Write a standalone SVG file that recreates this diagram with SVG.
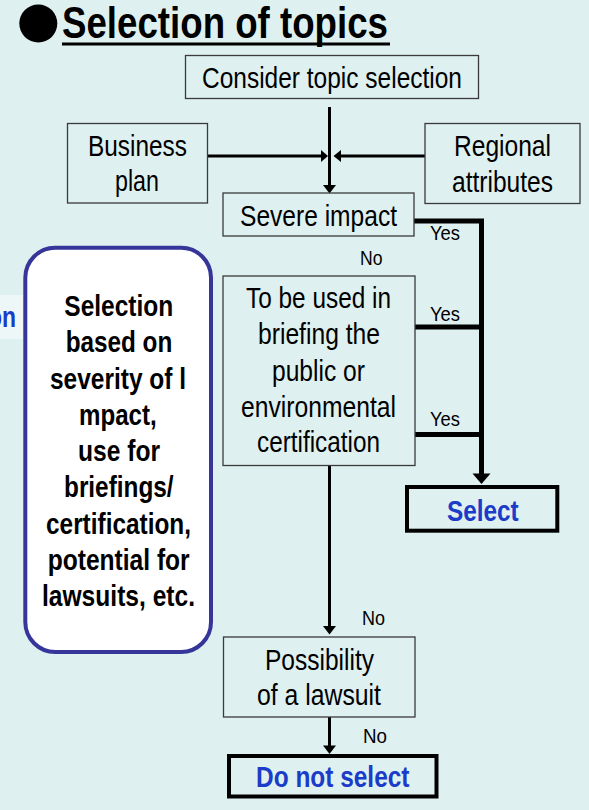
<svg xmlns="http://www.w3.org/2000/svg" width="589" height="810" viewBox="0 0 589 810">
<style>
  text { font-family: "Liberation Sans Narrow", "Arial Narrow", "Liberation Sans", Arial, sans-serif; fill: #000; }
  .lbl { font-size: 30px; }
  .sm { font-size: 21px; }
  .b { font-weight: bold; }
  .blue { fill: #1a3cc8; }
  .box { fill: none; stroke: #3a3a3a; stroke-width: 1.3; }
  .term { fill: none; stroke: #000; stroke-width: 4; }
  .con { fill: none; stroke: #000; stroke-width: 3; }
  .thick { fill: none; stroke: #000; stroke-width: 5; stroke-linejoin: miter; }
  .head { fill: #000; }
</style>
<rect x="0" y="0" width="589" height="810" fill="#dff0f0"/>

<g id="title">
  <circle cx="38.3" cy="23.5" r="19" fill="#000"/>
  <text class="b" x="62" y="38" font-size="44" textLength="326" lengthAdjust="spacingAndGlyphs">Selection of topics</text>
  <line x1="62" y1="44" x2="390" y2="44" stroke="#000" stroke-width="3"/>
</g>

<g id="side-tab">
  <rect x="-5" y="295" width="28" height="44" fill="#eef7f7"/>
  <text class="lbl b blue" x="-12" y="327" textLength="28" lengthAdjust="spacingAndGlyphs">on</text>
</g>

<g id="connectors">
  <line class="con" x1="329.5" y1="107" x2="329.5" y2="187"/>
  <polygon class="head" points="323,185 336,185 329.5,193.5"/>
  <line class="con" x1="207.5" y1="156" x2="322" y2="156"/>
  <polygon class="head" points="321,150 321,162 328,156"/>
  <line class="con" x1="425" y1="156" x2="340" y2="156"/>
  <polygon class="head" points="341,150 341,162 333.5,156"/>
  <polyline class="thick" points="414,221 481.5,221 481.5,475"/>
  <line class="thick" x1="415" y1="327" x2="481.5" y2="327"/>
  <line class="thick" x1="415" y1="434.5" x2="481.5" y2="434.5"/>
  <polygon class="head" points="472.5,473.5 490.5,473.5 481.5,484"/>
  <line class="con" x1="329.5" y1="465.5" x2="329.5" y2="628"/>
  <polygon class="head" points="323,626 336,626 329.5,634.5"/>
  <line class="con" x1="329.5" y1="717" x2="329.5" y2="747"/>
  <polygon class="head" points="323,745.5 336,745.5 329.5,754"/>
  <text class="sm" x="430" y="240" textLength="30" lengthAdjust="spacingAndGlyphs">Yes</text>
  <text class="sm" x="430" y="321" textLength="30" lengthAdjust="spacingAndGlyphs">Yes</text>
  <text class="sm" x="430" y="426" textLength="30" lengthAdjust="spacingAndGlyphs">Yes</text>
  <text class="sm" x="360" y="265" textLength="22.5" lengthAdjust="spacingAndGlyphs">No</text>
  <text class="sm" x="362" y="625" textLength="23" lengthAdjust="spacingAndGlyphs">No</text>
  <text class="sm" x="363" y="743" textLength="24" lengthAdjust="spacingAndGlyphs">No</text>
</g>

<g id="consider">
  <rect class="box" x="185.5" y="55.5" width="293" height="43"/>
  <text class="lbl" x="202" y="88" textLength="260" lengthAdjust="spacingAndGlyphs">Consider topic selection</text>
</g>

<g id="business-plan">
  <rect class="box" x="67.5" y="123.5" width="140" height="79.5"/>
  <text class="lbl" x="88" y="156" textLength="99" lengthAdjust="spacingAndGlyphs">Business</text>
  <text class="lbl" x="115" y="191" textLength="44" lengthAdjust="spacingAndGlyphs">plan</text>
</g>

<g id="regional-attributes">
  <rect class="box" x="425" y="123.5" width="155" height="80"/>
  <text class="lbl" x="454" y="156" textLength="97" lengthAdjust="spacingAndGlyphs">Regional</text>
  <text class="lbl" x="452" y="192" textLength="101" lengthAdjust="spacingAndGlyphs">attributes</text>
</g>

<g id="severe-impact">
  <rect class="box" x="223" y="193" width="191" height="43"/>
  <text class="lbl" x="240" y="226" textLength="157" lengthAdjust="spacingAndGlyphs">Severe impact</text>
</g>

<g id="briefing">
  <rect class="box" x="223" y="276" width="192" height="189.5"/>
  <text class="lbl" x="246" y="308" textLength="145" lengthAdjust="spacingAndGlyphs">To be used in</text>
  <text class="lbl" x="258" y="344" textLength="122" lengthAdjust="spacingAndGlyphs">briefing the</text>
  <text class="lbl" x="272" y="380.5" textLength="93" lengthAdjust="spacingAndGlyphs">public or</text>
  <text class="lbl" x="241" y="416.5" textLength="155" lengthAdjust="spacingAndGlyphs">environmental</text>
  <text class="lbl" x="257" y="452" textLength="123" lengthAdjust="spacingAndGlyphs">certification</text>
</g>

<g id="select">
  <rect class="term" x="407" y="487" width="150.3" height="43.7"/>
  <text class="lbl b blue" x="447" y="520.7" textLength="71.7" lengthAdjust="spacingAndGlyphs">Select</text>
</g>

<g id="lawsuit">
  <rect class="box" x="223.5" y="637" width="191.5" height="80"/>
  <text class="lbl" x="265" y="670" textLength="109" lengthAdjust="spacingAndGlyphs">Possibility</text>
  <text class="lbl" x="257" y="705" textLength="124" lengthAdjust="spacingAndGlyphs">of a lawsuit</text>
</g>

<g id="do-not-select">
  <rect class="term" x="229" y="756" width="207.5" height="40.5"/>
  <text class="lbl b blue" x="256" y="787" textLength="153.5" lengthAdjust="spacingAndGlyphs">Do not select</text>
</g>

<g id="criteria-note">
  <rect x="25.3" y="247.7" width="185.7" height="404.3" rx="30" ry="30" fill="#fff" stroke="#35359a" stroke-width="4"/>
  <text class="lbl b" x="64.3" y="316" textLength="109" lengthAdjust="spacingAndGlyphs">Selection</text>
  <text class="lbl b" x="65.7" y="352.2" textLength="106.6" lengthAdjust="spacingAndGlyphs">based on</text>
  <text class="lbl b" x="50" y="388.5" textLength="136" lengthAdjust="spacingAndGlyphs">severity of l</text>
  <text class="lbl b" x="79" y="424.7" textLength="77.7" lengthAdjust="spacingAndGlyphs">mpact,</text>
  <text class="lbl b" x="78" y="461" textLength="82" lengthAdjust="spacingAndGlyphs">use for</text>
  <text class="lbl b" x="64" y="497.2" textLength="109.6" lengthAdjust="spacingAndGlyphs">briefings/</text>
  <text class="lbl b" x="46" y="533.5" textLength="145" lengthAdjust="spacingAndGlyphs">certification,</text>
  <text class="lbl b" x="47.7" y="569.7" textLength="142" lengthAdjust="spacingAndGlyphs">potential for</text>
  <text class="lbl b" x="42" y="606" textLength="153" lengthAdjust="spacingAndGlyphs">lawsuits, etc.</text>
</g>
</svg>
